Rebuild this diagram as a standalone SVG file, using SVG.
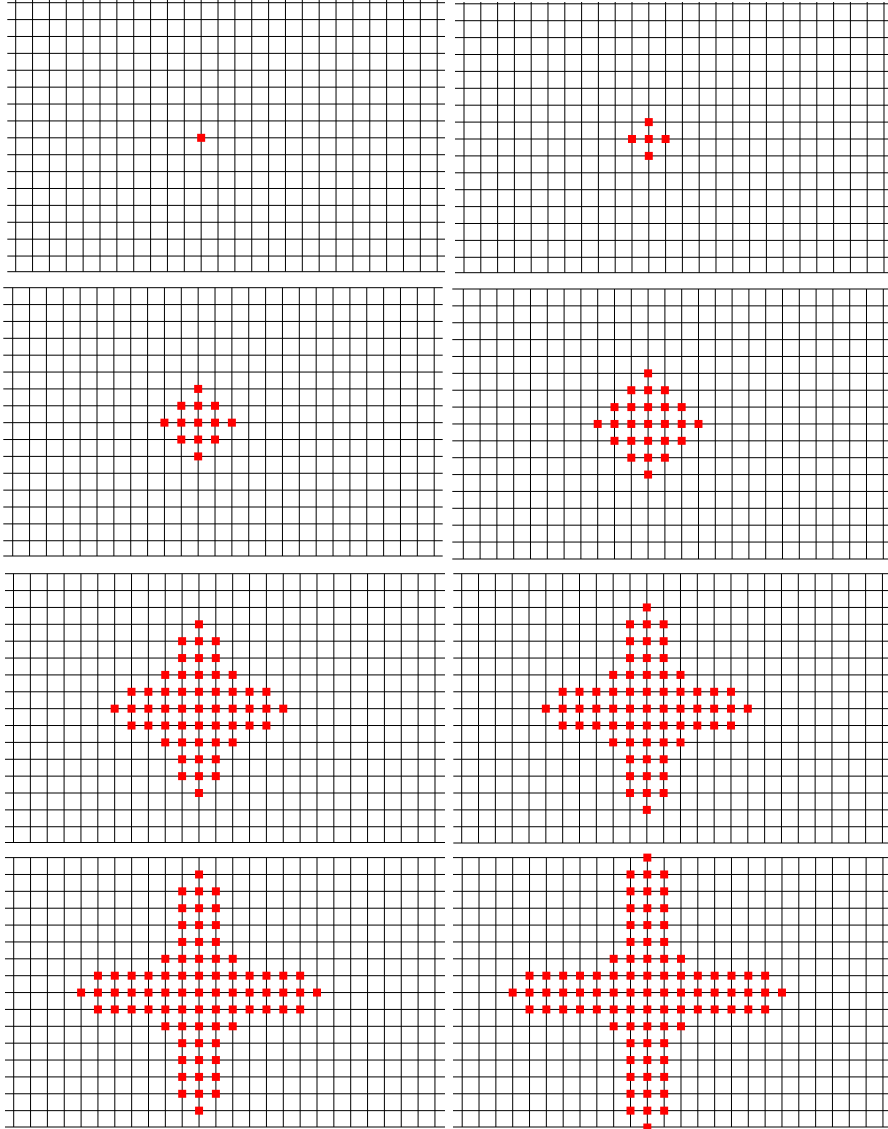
<svg xmlns="http://www.w3.org/2000/svg" xmlns:xlink="http://www.w3.org/1999/xlink" width="888" height="1129" viewBox="0 0 888 1129">
<style>
.g{fill:none;stroke:#000;stroke-width:1}
.sq{fill:#ff0000}
</style>
<defs>
<rect id="d" class="sq" x="-0.237" y="-0.237" width="0.474" height="0.474"/>
<g id="c3"><use href="#d" x="-1"/><use href="#d"/><use href="#d" x="1"/></g>
<g id="c5"><use href="#c3"/><use href="#d" x="-2"/><use href="#d" x="2"/></g>
<g id="c7"><use href="#c5"/><use href="#d" x="-3"/><use href="#d" x="3"/></g>
<g id="c9"><use href="#c7"/><use href="#d" x="-4"/><use href="#d" x="4"/></g>
<g id="c11"><use href="#c9"/><use href="#d" x="-5"/><use href="#d" x="5"/></g>
<g id="c13"><use href="#c11"/><use href="#d" x="-6"/><use href="#d" x="6"/></g>
<g id="c15"><use href="#c13"/><use href="#d" x="-7"/><use href="#d" x="7"/></g>
<g id="c17"><use href="#c15"/><use href="#d" x="-8"/><use href="#d" x="8"/></g>
</defs>
<rect width="888" height="1129" fill="#fff"/>

<g id="panel-1">
<path class="g" d="M15.7 0v271.7m16.86-271.7v271.7m16.86-271.7v271.7m16.86-271.7v271.7m16.86-271.7v271.7m16.86-271.7v271.7
m16.86-271.7v271.7m16.86-271.7v271.7m16.86-271.7v271.7m16.86-271.7v271.7m16.86-271.7v271.7
m16.86-271.7v271.7m16.86-271.7v271.7m16.86-271.7v271.7m16.86-271.7v271.7m16.86-271.7v271.7
m16.86-271.7v271.7m16.86-271.7v271.7m16.86-271.7v271.7m16.86-271.7v271.7m16.86-271.7v271.7
m16.86-271.7v271.7m16.86-271.7v271.7m16.86-271.7v271.7m16.86-271.7v271.7m16.86-271.7v271.7"/>
<path class="g" d="M7.3 2.7h437.7m-437.7 16.89h437.7m-437.7 16.89h437.7m-437.7 16.89h437.7m-437.7 16.89h437.7m-437.7 16.89h437.7
m-437.7 16.89h437.7m-437.7 16.89h437.7m-437.7 16.89h437.7m-437.7 16.89h437.7m-437.7 16.89h437.7
m-437.7 16.89h437.7m-437.7 16.89h437.7m-437.7 16.89h437.7m-437.7 16.89h437.7m-437.7 16.89h437.7M7.3 271.7h437.7"/>
<g transform="translate(201.16 137.82) scale(16.86 16.89)">
<use href="#d"/>
</g>
</g>

<g id="panel-2">
<path class="g" d="M464 2v270.7m16.8-270.7v270.7m16.8-270.7v270.7m16.8-270.7v270.7m16.8-270.7v270.7m16.8-270.7v270.7
m16.8-270.7v270.7m16.8-270.7v270.7m16.8-270.7v270.7m16.8-270.7v270.7m16.8-270.7v270.7
m16.8-270.7v270.7m16.8-270.7v270.7m16.8-270.7v270.7m16.8-270.7v270.7m16.8-270.7v270.7
m16.8-270.7v270.7m16.8-270.7v270.7m16.8-270.7v270.7m16.8-270.7v270.7m16.8-270.7v270.7
m16.8-270.7v270.7m16.8-270.7v270.7m16.8-270.7v270.7m16.8-270.7v270.7m16.8-270.7v270.7"/>
<path class="g" d="M455 3.8h433m-433 16.9h433m-433 16.9h433m-433 16.9h433m-433 16.9h433m-433 16.9h433
m-433 16.9h433m-433 16.9h433m-433 16.9h433m-433 16.9h433m-433 16.9h433
m-433 16.9h433m-433 16.9h433m-433 16.9h433m-433 16.9h433m-433 16.9h433M455 272.7h433"/>
<g transform="translate(648.8 139) scale(16.8 16.9)">
<use href="#d" y="-1"/><use href="#c3"/><use href="#d" y="1"/>
</g>
</g>

<g id="panel-3">
<path class="g" d="M12.7 287.7v268.3m16.86-268.3v268.3m16.86-268.3v268.3m16.86-268.3v268.3m16.86-268.3v268.3m16.86-268.3v268.3
m16.86-268.3v268.3m16.86-268.3v268.3m16.86-268.3v268.3m16.86-268.3v268.3m16.86-268.3v268.3
m16.86-268.3v268.3m16.86-268.3v268.3m16.86-268.3v268.3m16.86-268.3v268.3m16.86-268.3v268.3
m16.86-268.3v268.3m16.86-268.3v268.3m16.86-268.3v268.3m16.86-268.3v268.3m16.86-268.3v268.3
m16.86-268.3v268.3m16.86-268.3v268.3m16.86-268.3v268.3m16.86-268.3v268.3m16.86-268.3v268.3"/>
<path class="g" d="M3.3 287.7h439.4m-439.4 16.87h439.4m-439.4 16.87h439.4m-439.4 16.87h439.4m-439.4 16.87h439.4m-439.4 16.87h439.4
m-439.4 16.87h439.4m-439.4 16.87h439.4m-439.4 16.87h439.4m-439.4 16.87h439.4m-439.4 16.87h439.4
m-439.4 16.87h439.4m-439.4 16.87h439.4m-439.4 16.87h439.4m-439.4 16.87h439.4m-439.4 16.87h439.4M3.3 556h439.4"/>
<g transform="translate(198.16 422.66) scale(16.86 16.87)">
<use href="#d" y="-2"/><use href="#c3" y="-1"/><use href="#c5"/><use href="#c3" y="1"/><use href="#d" y="2"/>
</g>
</g>

<g id="panel-4">
<path class="g" d="M463.3 289v270m16.8-270v270m16.8-270v270m16.8-270v270m16.8-270v270m16.8-270v270
m16.8-270v270m16.8-270v270m16.8-270v270m16.8-270v270m16.8-270v270
m16.8-270v270m16.8-270v270m16.8-270v270m16.8-270v270m16.8-270v270
m16.8-270v270m16.8-270v270m16.8-270v270m16.8-270v270m16.8-270v270
m16.8-270v270m16.8-270v270m16.8-270v270m16.8-270v270m16.8-270v270"/>
<path class="g" d="M452.3 289h435.7m-435.7 16.87h435.7m-435.7 16.87h435.7m-435.7 16.87h435.7m-435.7 16.87h435.7m-435.7 16.87h435.7
m-435.7 16.87h435.7m-435.7 16.87h435.7m-435.7 16.87h435.7m-435.7 16.87h435.7m-435.7 16.87h435.7
m-435.7 16.87h435.7m-435.7 16.87h435.7m-435.7 16.87h435.7m-435.7 16.87h435.7m-435.7 16.87h435.7M452.3 559h435.7"/>
<g transform="translate(648.1 423.96) scale(16.8 16.87)">
<use href="#d" y="-3"/><use href="#c3" y="-2"/><use href="#c5" y="-1"/><use href="#c7"/><use href="#c5" y="1"/><use href="#c3" y="2"/><use href="#d" y="3"/>
</g>
</g>

<g id="panel-5">
<path class="g" d="M13.5 573.7v268.8m16.86-268.8v268.8m16.86-268.8v268.8m16.86-268.8v268.8m16.86-268.8v268.8m16.86-268.8v268.8
m16.86-268.8v268.8m16.86-268.8v268.8m16.86-268.8v268.8m16.86-268.8v268.8m16.86-268.8v268.8
m16.86-268.8v268.8m16.86-268.8v268.8m16.86-268.8v268.8m16.86-268.8v268.8m16.86-268.8v268.8
m16.86-268.8v268.8m16.86-268.8v268.8m16.86-268.8v268.8m16.86-268.8v268.8m16.86-268.8v268.8
m16.86-268.8v268.8m16.86-268.8v268.8m16.86-268.8v268.8m16.86-268.8v268.8m16.86-268.8v268.8"/>
<path class="g" d="M5 573.7h440m-440 16.87h440m-440 16.87h440m-440 16.87h440m-440 16.87h440m-440 16.87h440
m-440 16.87h440m-440 16.87h440m-440 16.87h440m-440 16.87h440m-440 16.87h440
m-440 16.87h440m-440 16.87h440m-440 16.87h440m-440 16.87h440m-440 16.87h440M5 842.5h440"/>
<g transform="translate(198.96 708.66) scale(16.86 16.87)">
<use href="#d" y="-5"/><use href="#c3" y="-4"/><use href="#c3" y="-3"/><use href="#c5" y="-2"/><use href="#c9" y="-1"/>
<use href="#c11"/>
<use href="#c9" y="1"/><use href="#c5" y="2"/><use href="#c3" y="3"/><use href="#c3" y="4"/><use href="#d" y="5"/>
</g>
</g>

<g id="panel-6">
<path class="g" d="M461.7 573.7v269.3m16.83-269.3v269.3m16.83-269.3v269.3m16.83-269.3v269.3m16.83-269.3v269.3m16.83-269.3v269.3
m16.83-269.3v269.3m16.83-269.3v269.3m16.83-269.3v269.3m16.83-269.3v269.3m16.83-269.3v269.3
m16.83-269.3v269.3m16.83-269.3v269.3m16.83-269.3v269.3m16.83-269.3v269.3m16.83-269.3v269.3
m16.83-269.3v269.3m16.83-269.3v269.3m16.83-269.3v269.3m16.83-269.3v269.3m16.83-269.3v269.3
m16.83-269.3v269.3m16.83-269.3v269.3m16.83-269.3v269.3m16.83-269.3v269.3m16.83-269.3v269.3"/>
<path class="g" d="M453.3 573.7h434.7m-434.7 16.87h434.7m-434.7 16.87h434.7m-434.7 16.87h434.7m-434.7 16.87h434.7m-434.7 16.87h434.7
m-434.7 16.87h434.7m-434.7 16.87h434.7m-434.7 16.87h434.7m-434.7 16.87h434.7m-434.7 16.87h434.7
m-434.7 16.87h434.7m-434.7 16.87h434.7m-434.7 16.87h434.7m-434.7 16.87h434.7m-434.7 16.87h434.7M453.3 843h434.7"/>
<g transform="translate(646.83 708.66) scale(16.83 16.87)">
<use href="#d" y="-6"/><use href="#c3" y="-5"/><use href="#c3" y="-4"/><use href="#c3" y="-3"/><use href="#c5" y="-2"/><use href="#c11" y="-1"/>
<use href="#c13"/>
<use href="#c11" y="1"/><use href="#c5" y="2"/><use href="#c3" y="3"/><use href="#c3" y="4"/><use href="#c3" y="5"/><use href="#d" y="6"/>
</g>
</g>

<g id="panel-7">
<path class="g" d="M13.7 857.6v269.4m16.85-269.4v269.4m16.85-269.4v269.4m16.85-269.4v269.4m16.85-269.4v269.4m16.85-269.4v269.4
m16.85-269.4v269.4m16.85-269.4v269.4m16.85-269.4v269.4m16.85-269.4v269.4m16.85-269.4v269.4
m16.85-269.4v269.4m16.85-269.4v269.4m16.85-269.4v269.4m16.85-269.4v269.4m16.85-269.4v269.4
m16.85-269.4v269.4m16.85-269.4v269.4m16.85-269.4v269.4m16.85-269.4v269.4m16.85-269.4v269.4
m16.85-269.4v269.4m16.85-269.4v269.4m16.85-269.4v269.4m16.85-269.4v269.4m16.85-269.4v269.4"/>
<path class="g" d="M5 857.6h440m-440 16.87h440m-440 16.87h440m-440 16.87h440m-440 16.87h440m-440 16.87h440
m-440 16.87h440m-440 16.87h440m-440 16.87h440m-440 16.87h440m-440 16.87h440
m-440 16.87h440m-440 16.87h440m-440 16.87h440m-440 16.87h440m-440 16.87h440M5 1127h440"/>
<g transform="translate(199.05 992.56) scale(16.85 16.87)">
<use href="#d" y="-7"/><use href="#c3" y="-6"/><use href="#c3" y="-5"/><use href="#c3" y="-4"/><use href="#c3" y="-3"/><use href="#c5" y="-2"/><use href="#c13" y="-1"/>
<use href="#c15"/>
<use href="#c13" y="1"/><use href="#c5" y="2"/><use href="#c3" y="3"/><use href="#c3" y="4"/><use href="#c3" y="5"/><use href="#c3" y="6"/><use href="#d" y="7"/>
</g>
</g>

<g id="panel-8">
<path class="g" d="M462.2 857.6v269.4m16.83-269.4v269.4m16.83-269.4v269.4m16.83-269.4v269.4m16.83-269.4v269.4m16.83-269.4v269.4
m16.83-269.4v269.4m16.83-269.4v269.4m16.83-269.4v269.4m16.83-269.4v269.4m16.83-269.4v269.4
m16.83-269.4v269.4m16.83-269.4v269.4m16.83-269.4v269.4m16.83-269.4v269.4m16.83-269.4v269.4
m16.83-269.4v269.4m16.83-269.4v269.4m16.83-269.4v269.4m16.83-269.4v269.4m16.83-269.4v269.4
m16.83-269.4v269.4m16.83-269.4v269.4m16.83-269.4v269.4m16.83-269.4v269.4m16.83-269.4v269.4"/>
<path class="g" d="M453 857.6h435m-435 16.87h435m-435 16.87h435m-435 16.87h435m-435 16.87h435m-435 16.87h435
m-435 16.87h435m-435 16.87h435m-435 16.87h435m-435 16.87h435m-435 16.87h435
m-435 16.87h435m-435 16.87h435m-435 16.87h435m-435 16.87h435m-435 16.87h435M453 1127h435"/>
<g transform="translate(647.33 992.56) scale(16.83 16.87)">
<use href="#d" y="-8"/><use href="#c3" y="-7"/><use href="#c3" y="-6"/><use href="#c3" y="-5"/><use href="#c3" y="-4"/><use href="#c3" y="-3"/><use href="#c5" y="-2"/><use href="#c15" y="-1"/>
<use href="#c17"/>
<use href="#c15" y="1"/><use href="#c5" y="2"/><use href="#c3" y="3"/><use href="#c3" y="4"/><use href="#c3" y="5"/><use href="#c3" y="6"/><use href="#c3" y="7"/><use href="#d" y="8"/>
</g>
</g>
</svg>
